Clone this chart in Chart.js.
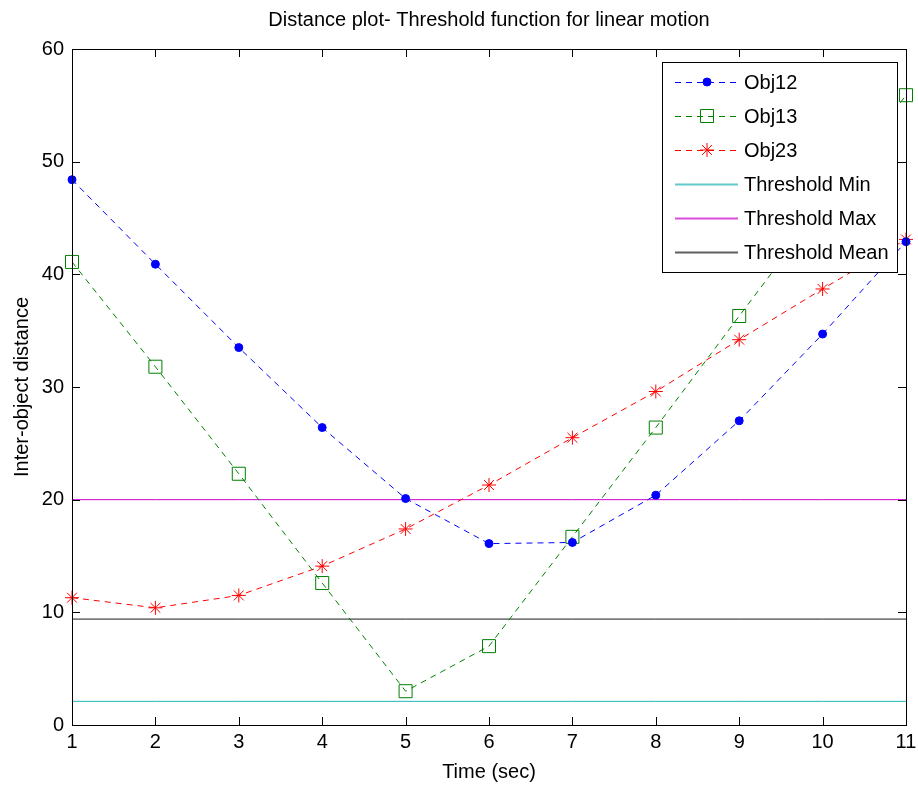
<!DOCTYPE html>
<html>
<head>
<meta charset="utf-8">
<script src="https://cdn.jsdelivr.net/npm/chart.js@4/dist/chart.umd.min.js"></script>
<style>
  html, body { margin: 0; padding: 0; background: #fff; }
  #wrap { width: 918px; height: 786px; }
</style>
</head>
<body>
<div id="wrap"><canvas id="c" width="918" height="786"></canvas></div>
<script>
// Time axis (sec)
const timeSec = [1, 2, 3, 4, 5, 6, 7, 8, 9, 10, 11];
// Pairwise inter-object distances
const obj12 = [48.4, 40.9, 33.5, 26.4, 20.1, 16.1, 16.2, 20.4, 27.0, 34.7, 42.9];
const obj13 = [41.1, 31.8, 22.3, 12.6, 3.0, 7.0, 16.7, 26.4, 36.3, 46.1, 55.9];
const obj23 = [11.3, 10.4, 11.5, 14.1, 17.4, 21.3, 25.5, 29.6, 34.2, 38.7, 43.1];
// Threshold levels
const thresholdMin = 2.1;
const thresholdMax = 20;
const thresholdMean = 9.4;
// Axis ticks
const yTicks = [0, 10, 20, 30, 40, 50, 60];
const chartTitle = 'Distance plot- Threshold function for linear motion';

const FONT = "'Liberation Sans', Arial, Helvetica, sans-serif";
const flat = v => timeSec.map(() => v);

const seriesDs = (label, data, color, style, radius, fill) => ({
  label, data,
  borderColor: color, borderWidth: 1, borderDash: [6, 5],
  pointStyle: style, pointRadius: radius, pointHoverRadius: radius,
  pointBorderColor: color, pointBackgroundColor: fill ? color : 'rgba(0,0,0,0)',
  pointBorderWidth: 1, tension: 0, clip: false, fill: false
});
const lineDs = (label, v, color) => ({
  label, data: flat(v),
  borderColor: color, borderWidth: 1, pointRadius: 0, pointHoverRadius: 0,
  tension: 0, fill: false
});

// Title centred over the plotting area
const axesTitle = {
  id: 'axesTitle',
  afterDraw(chart) {
    const { ctx, chartArea: a } = chart;
    ctx.save();
    ctx.font = '20px ' + FONT;
    ctx.fillStyle = '#000';
    ctx.textAlign = 'center';
    ctx.textBaseline = 'middle';
    ctx.fillText(chartTitle, (a.left + a.right) / 2, 20);
    ctx.restore();
  }
};

// Box around the axes with inward ticks on all four sides
const boxTicks = {
  id: 'boxTicks',
  afterDraw(chart) {
    const { ctx, chartArea: a, scales: { x, y } } = chart;
    ctx.save();
    ctx.strokeStyle = '#000';
    ctx.lineWidth = 1;
    ctx.strokeRect(a.left + 0.5, a.top + 0.5, a.right - a.left, a.bottom - a.top);
    const L = 8;
    ctx.beginPath();
    x.ticks.forEach((t, i) => {
      const px = Math.round(x.getPixelForTick(i)) + 0.5;
      ctx.moveTo(px, a.bottom); ctx.lineTo(px, a.bottom - L);
      ctx.moveTo(px, a.top); ctx.lineTo(px, a.top + L);
    });
    y.ticks.forEach(t => {
      const py = Math.round(y.getPixelForValue(t.value)) + 0.5;
      ctx.moveTo(a.left, py); ctx.lineTo(a.left + L, py);
      ctx.moveTo(a.right, py); ctx.lineTo(a.right - L, py);
    });
    ctx.stroke();
    ctx.restore();
  }
};

// Boxed legend in the upper right corner
const boxLegend = {
  id: 'boxLegend',
  afterDatasetsDraw(chart) {
    const { ctx } = chart;
    const bx = 662, by = 62, bw = 235, bh = 210;
    ctx.save();
    ctx.fillStyle = '#fff';
    ctx.fillRect(bx, by, bw, bh);
    ctx.strokeStyle = '#000';
    ctx.lineWidth = 1;
    ctx.strokeRect(bx + 0.5, by + 0.5, bw, bh);
    ctx.font = '20px ' + FONT;
    ctx.textBaseline = 'middle';
    ctx.textAlign = 'left';
    chart.data.datasets.forEach((ds, i) => {
      const cy = by + 20 + i * 34;
      ctx.save();
      ctx.strokeStyle = ds.borderColor;
      ctx.lineWidth = ds.borderDash ? 1 : 2;
      ctx.globalAlpha = ds.borderDash ? 1 : 0.7;
      ctx.setLineDash(ds.borderDash || []);
      ctx.beginPath();
      ctx.moveTo(675, cy + 0.5);
      ctx.lineTo(738, cy + 0.5);
      ctx.stroke();
      ctx.restore();
      if (ds.pointRadius > 0) {
        ctx.save();
        ctx.strokeStyle = ds.pointBorderColor;
        ctx.fillStyle = ds.pointBackgroundColor;
        ctx.lineWidth = 1;
        Chart.helpers.drawPoint(ctx, {
          pointStyle: ds.pointStyle, radius: ds.pointRadius,
          borderWidth: 1, rotation: 0
        }, 707, cy);
        ctx.restore();
      }
      ctx.fillStyle = '#000';
      ctx.fillText(ds.label, 744, cy + 1);
    });
    ctx.restore();
  }
};

new Chart(document.getElementById('c'), {
  type: 'line',
  data: {
    labels: timeSec,
    datasets: [
      seriesDs('Obj12', obj12, '#0000ff', 'circle', 4, true),
      seriesDs('Obj13', obj13, '#008000', 'rect', 9.2, false),
      seriesDs('Obj23', obj23, '#ff0000', 'star', 7, false),
      lineDs('Threshold Min', thresholdMin, '#1fb5b5'),
      lineDs('Threshold Max', thresholdMax, '#cc00cc'),
      lineDs('Threshold Mean', thresholdMean, '#1a1a1a')
    ]
  },
  options: {
    responsive: false,
    animation: false,
    layout: { padding: { left: 0, right: 12, top: 49, bottom: 0 } },
    plugins: {
      legend: { display: false },
      tooltip: { enabled: false },
      title: { display: false }
    },
    scales: {
      x: {
        type: 'category',
        offset: false,
        grid: { display: false, drawTicks: false },
        border: { display: false },
        ticks: { color: '#000', font: { family: FONT, size: 20 }, padding: 5, maxRotation: 0, autoSkip: false },
        title: { display: true, text: 'Time (sec)', color: '#000', font: { family: FONT, size: 20 }, padding: { top: 0, bottom: 2 } },
        afterFit(s) { s.height = 61; s.paddingLeft = 0; s.paddingRight = 0; }
      },
      y: {
        min: 0, max: 60,
        afterBuildTicks(s) { s.ticks = yTicks.map(v => ({ value: v })); },
        grid: { display: false, drawTicks: false },
        border: { display: false },
        ticks: { color: '#000', font: { family: FONT, size: 20 }, padding: 8 },
        title: { display: true, text: 'Inter-object distance', color: '#000', font: { family: FONT, size: 20 }, padding: { top: 10, bottom: 0 } },
        afterFit(s) { s.width = 72; s.paddingTop = 0; s.paddingBottom = 0; }
      }
    }
  },
  plugins: [axesTitle, boxTicks, boxLegend]
});
</script>
</body>
</html>
